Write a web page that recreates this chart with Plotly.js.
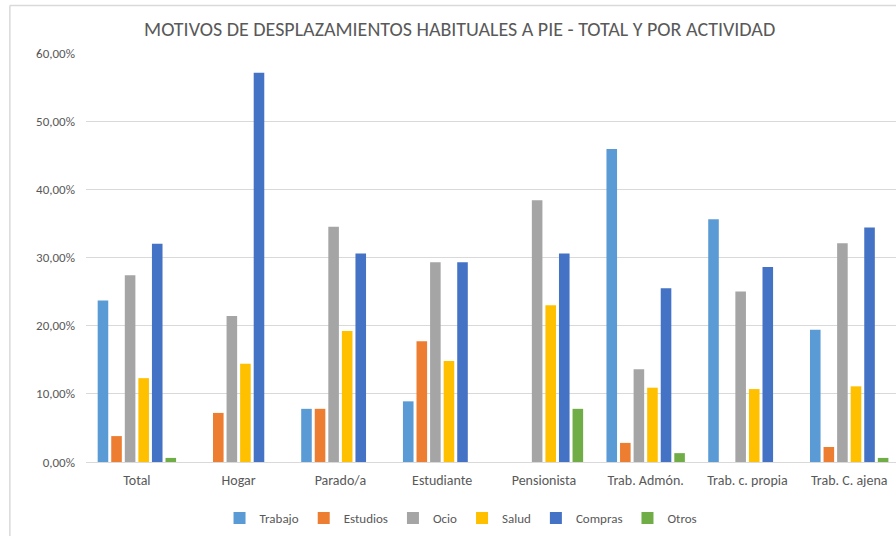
<!DOCTYPE html>
<html>
<head>
<meta charset="utf-8">
<script src="https://cdn.plot.ly/plotly-3.0.1.min.js"></script>
<style>
html,body{margin:0;padding:0;background:#fff;overflow:hidden;}
#chart{width:896px;height:536px;}
</style>
</head>
<body>
<div id="chart"></div>
<script>
const categories = ["Total","Hogar","Parado/a","Estudiante","Pensionista","Trab. Admón.","Trab. c. propia","Trab. C. ajena"];
const trabajo  = [23.7, 0,    7.8, 8.9,  0,    45.9, 35.6, 19.4];
const estudios = [3.8,  7.2,  7.8, 17.7, 0,    2.8,  0,    2.2];
const ocio     = [27.4, 21.4, 34.5, 29.3, 38.4, 13.6, 25.0, 32.1];
const salud    = [12.3, 14.4, 19.2, 14.8, 23.0, 10.9, 10.7, 11.1];
const compras  = [32.0, 57.1, 30.6, 29.3, 30.6, 25.5, 28.6, 34.4];
const otros    = [0.6,  0,    0,    0,    7.8,  1.3,  0,    0.6];
const seriesNames = ["Trabajo","Estudios","Ocio","Salud","Compras","Otros"];
const seriesValues = [trabajo, estudios, ocio, salud, compras, otros];
const colors = ["#5B9BD5","#ED7D31","#A5A5A5","#FFC000","#4472C4","#70AD47"];
const yTicks = [0,10,20,30,40,50,60];

const traces = seriesNames.map((n,i)=>({
  type:'bar', name:n, x:categories, y:seriesValues[i],
  marker:{color:colors[i]}, hoverinfo:'x+y+name'
}));

const font = "Carlito, 'Open Sans', 'Liberation Sans Narrow', sans-serif";
const layout = {
  width:896, height:536,
  margin:{l:86, r:0, t:53, b:74},
  paper_bgcolor:'#fff', plot_bgcolor:'#fff',
  separators:',.',
  font:{family:font, color:'#595959', size:11},
  title:{text:'MOTIVOS DE DESPLAZAMIENTOS HABITUALES A PIE - TOTAL Y POR ACTIVIDAD',
         font:{family:font, size:20, color:'#595959'}, x:0.513, xanchor:'center', y:0.945, yanchor:'middle'},
  barmode:'group', bargap:0.2, bargroupgap:0.22,
  xaxis:{range:[-0.5,7.46], showgrid:false, showline:false, ticks:'', tickfont:{size:14, color:'#595959'},
         ticklabelstandoff:8, automargin:false},
  yaxis:{range:[0,60], tickvals:yTicks, ticktext:yTicks.map(v=>v.toFixed(2).replace('.',',')+'%'),
         showgrid:true, gridcolor:'#d9d9d9', gridwidth:1, zeroline:true, zerolinecolor:'#d9d9d9', zerolinewidth:1,
         showline:false, ticks:'', ticklen:0, tickfont:{size:13, color:'#595959'}, ticklabelstandoff:10, automargin:false},
  legend:{orientation:'h', x:0.463, xanchor:'center', y:-0.137, yanchor:'middle', font:{size:13, color:'#595959'},
          itemwidth:30, traceorder:'normal'},
  shapes:[
    {type:'line', xref:'paper', yref:'paper', x0:-0.094, x1:1.02, y0:1.116, y1:1.116, line:{color:'#d9d9d9', width:1.5}},
    {type:'line', xref:'paper', yref:'paper', x0:-0.094, x1:-0.094, y0:1.116, y1:-0.2, line:{color:'#d9d9d9', width:1.5}}
  ]
};
Plotly.newPlot('chart', traces, layout, {displayModeBar:false, staticPlot:true});
</script>
</body>
</html>
